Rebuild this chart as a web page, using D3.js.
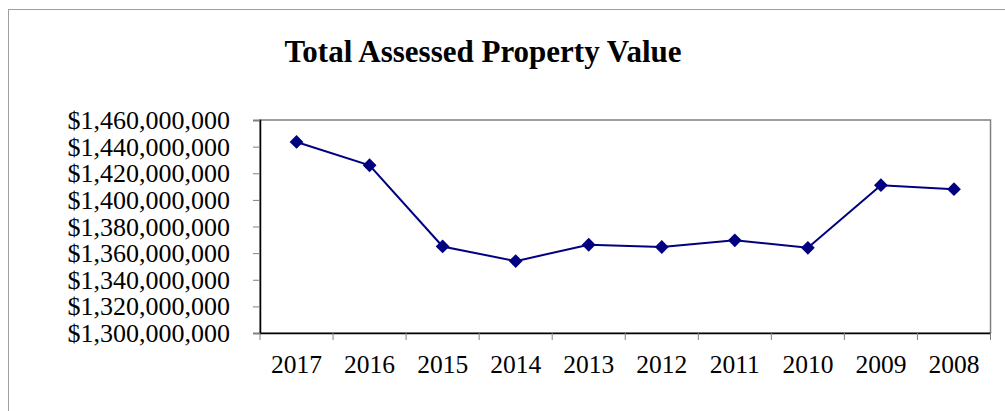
<!DOCTYPE html>
<html>
<head>
<meta charset="utf-8">
<script src="https://cdn.jsdelivr.net/npm/d3@7"></script>
<style>
body{margin:0;background:#fff;}
svg text{font-family:"Liberation Serif","Times New Roman",serif;fill:#000;}
</style>
</head>
<body>
<div id="plot"></div>
<script>
// chart data
var years = ['2017','2016','2015','2014','2013','2012','2011','2010','2009','2008'];
var values = [1443500000,1426000000,1365000000,1354000000,1366300000,1364600000,1369600000,1364000000,1411000000,1408000000];
var yTicks = [1300000000,1320000000,1340000000,1360000000,1380000000,1400000000,1420000000,1440000000,1460000000];

var W = 1005, H = 411;
var m = {t:120, r:14.5, b:78, l:260};

var svg = d3.select('#plot').append('svg')
	.attr('width',W).attr('height',H);

// outer chart frame
svg.append('rect')
	.attr('x',8.5).attr('y',9.5)
	.attr('width',W+20).attr('height',H+20)
	.style('fill','#fff').style('stroke','#a0a0a0').style('stroke-width',1);

svg.append('text')
	.attr('x',483).attr('y',62)
	.attr('text-anchor','middle')
	.style('font-weight','bold').style('font-size','31px')
	.text('Total Assessed Property Value');

var x = d3.scaleBand().domain(years).range([m.l, W-m.r]);
var y = d3.scaleLinear().domain([1300000000,1460000000]).range([H-m.b, m.t]);

var plot = svg.append('g');

// plot area border (top/right gray)
plot.append('rect')
	.attr('x',m.l).attr('y',m.t)
	.attr('width',W-m.r-m.l).attr('height',H-m.b-m.t)
	.style('fill','none').style('stroke','#808080').style('stroke-width',1.5);

var fmt = function(d){ return '$'+d3.format(',')(d); };

var yAxis = plot.append('g')
	.attr('transform','translate('+m.l+',0)')
	.call(d3.axisLeft(y).tickValues(yTicks).tickFormat(fmt).tickSize(7).tickPadding(23));
yAxis.selectAll('text').style('font-size','26px').attr('dy','0.33em');
yAxis.selectAll('.tick line').style('stroke','#808080');
yAxis.select('.domain').style('stroke','#000').style('stroke-width',1.5);

var xAxis = plot.append('g')
	.attr('transform','translate(0,'+(H-m.b)+')')
	.call(d3.axisBottom(x).tickSize(0).tickPadding(22));
xAxis.selectAll('text').style('font-size','25.5px');
xAxis.select('.domain').style('stroke','#000').style('stroke-width',1.5);

// category boundary ticks
var bounds = years.map(function(d){ return x(d); }).concat([W-m.r]);
xAxis.selectAll('.bound').data(bounds).enter().append('line')
	.attr('class','bound')
	.attr('x1',function(d){return d;}).attr('x2',function(d){return d;})
	.attr('y1',0).attr('y2',7)
	.style('stroke','#808080');

var pts = years.map(function(d,i){ return {yr:d, v:values[i]}; });

var line = d3.line()
	.x(function(d){ return x(d.yr)+x.bandwidth()/2; })
	.y(function(d){ return y(d.v); });

plot.append('path')
	.datum(pts)
	.attr('d',line)
	.style('fill','none').style('stroke','#000080').style('stroke-width',2);

// square markers turned 45 degrees
plot.selectAll('.pt').data(pts).enter().append('path')
	.attr('class','pt')
	.attr('transform',function(d){ return 'translate('+(x(d.yr)+x.bandwidth()/2)+','+y(d.v)+') rotate(45)'; })
	.attr('d',d3.symbol().type(d3.symbolSquare).size(95))
	.style('fill','#000080');
</script>
</body>
</html>
